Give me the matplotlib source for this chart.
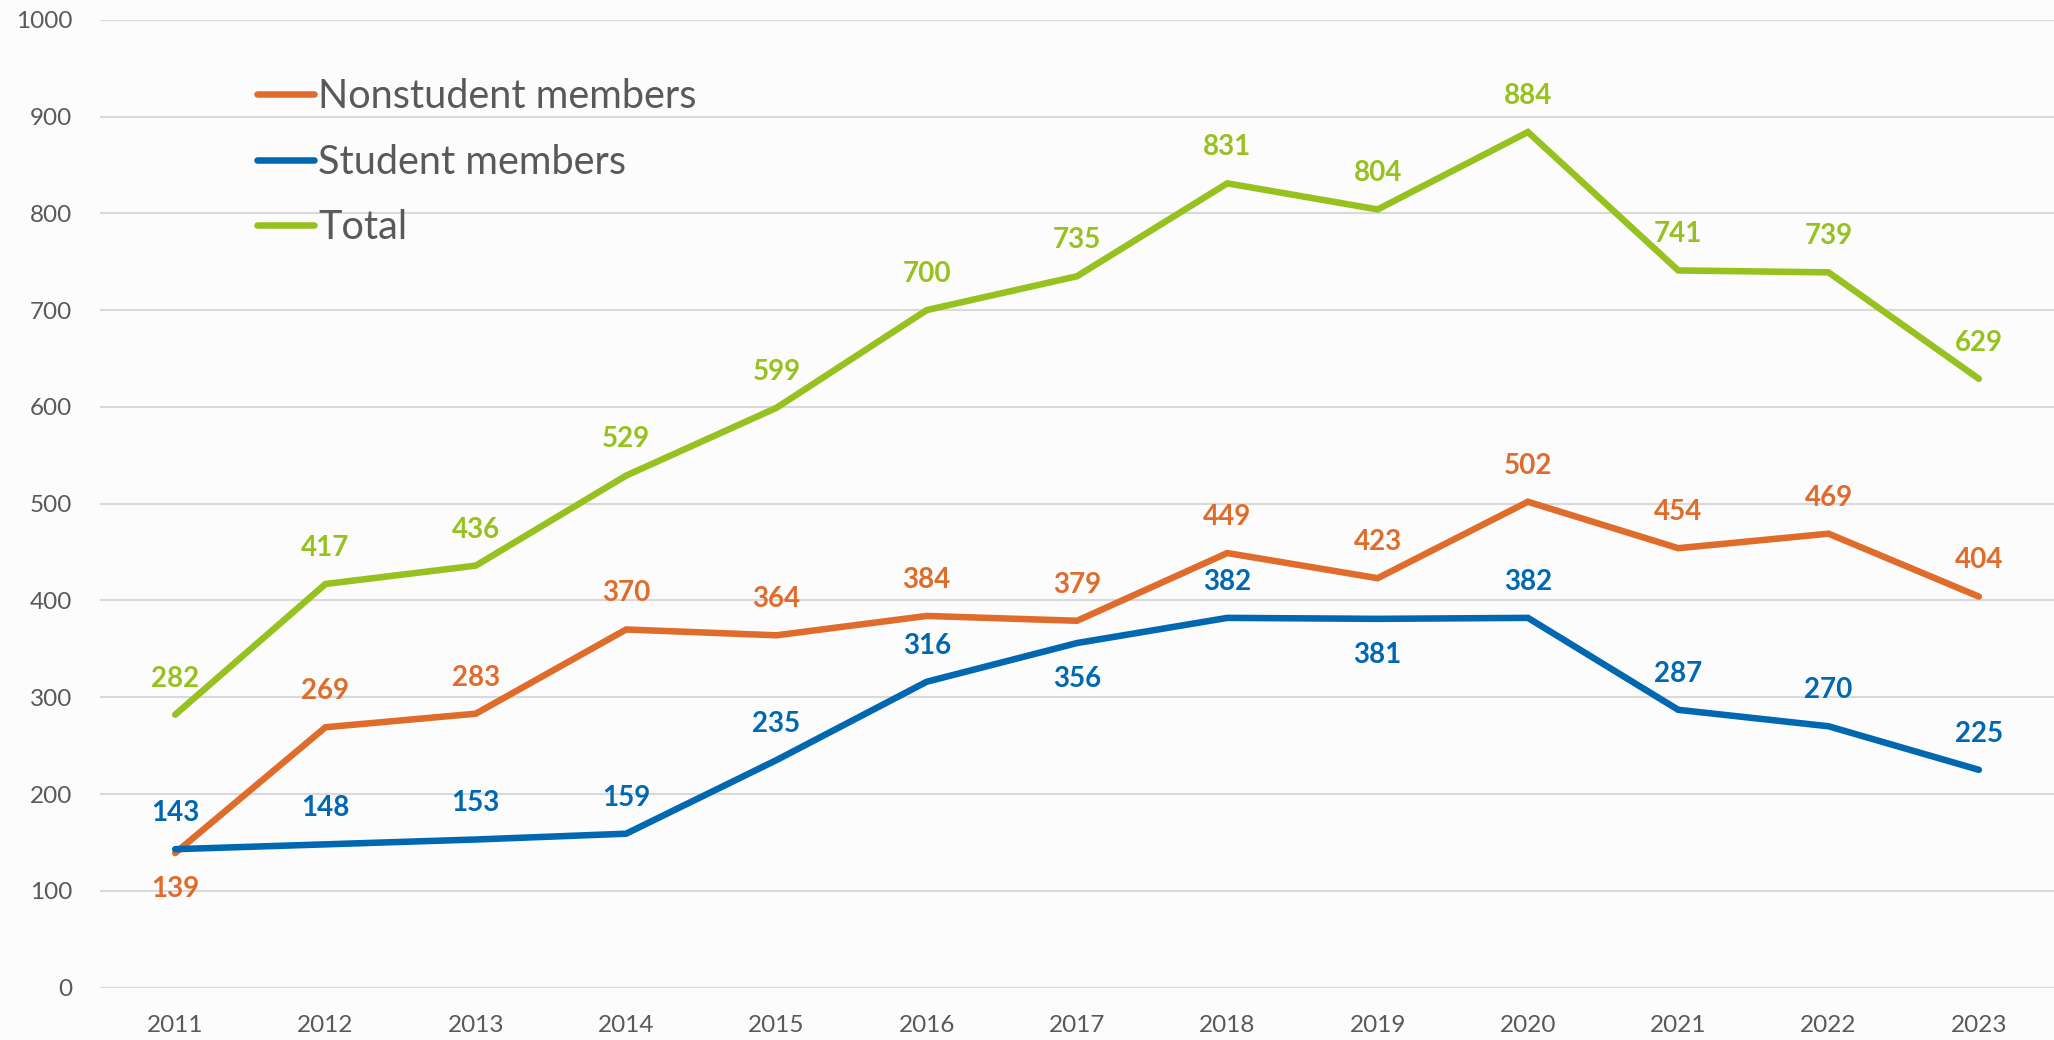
import numpy as np
import matplotlib.pyplot as plt

# Membership counts per year
years = ["2011", "2012", "2013", "2014", "2015", "2016", "2017",
         "2018", "2019", "2020", "2021", "2022", "2023"]
nonstudent = [139, 269, 283, 370, 364, 384, 379, 449, 423, 502, 454, 469, 404]
student = [143, 148, 153, 159, 235, 316, 356, 382, 381, 382, 287, 270, 225]
total = [282, 417, 436, 529, 599, 700, 735, 831, 804, 884, 741, 739, 629]

# +1 = label above the point, -1 = below
nonstudentPos = [-1, 1, 1, 1, 1, 1, 1, 1, 1, 1, 1, 1, 1]
studentPos = [1, 1, 1, 1, 1, 1, -1, 1, -1, 1, 1, 1, 1]
totalPos = [1] * 13

colOrange = "#E06C2C"
colBlue = "#0068B0"
colGreen = "#96C11F"
textGray = "#595959"

plt.rcParams["font.family"] = ["Lato", "DejaVu Sans"]

fig = plt.figure(figsize=(20.54, 10.40), dpi=100)
fig.patch.set_facecolor("#FCFCFC")
ax = fig.add_axes([0.0487, 0.0504, 0.9513, 0.9306])
ax.set_facecolor("#FCFCFC")

x = np.arange(len(years))
series = [("Nonstudent members", nonstudent, nonstudentPos, colOrange),
          ("Student members", student, studentPos, colBlue),
          ("Total", total, totalPos, colGreen)]

for name, vals, pos, col in series:
    ax.plot(x, vals, color=col, linewidth=4.7, solid_capstyle="round",
            solid_joinstyle="miter", label=name, zorder=3)
    for xi, v, p in zip(x, vals, pos):
        ax.annotate(str(v), (xi, v), xytext=(0, 26 * p), textcoords="offset points",
                    ha="center", va="center", fontsize=20, fontweight="bold",
                    color=col, zorder=4)

# Axes and grid
ax.set_xlim(-0.5, len(years) - 0.5)
ax.set_ylim(0, 1000)
ax.set_xticks(x)
ax.set_xticklabels(years)
ax.set_yticks(np.arange(0, 1001, 100))
ax.tick_params(axis="both", length=0, labelsize=17.5, labelcolor=textGray)
ax.tick_params(axis="x", pad=20)
ax.tick_params(axis="y", pad=20)
ax.grid(True, axis="y", color="#D9D9D9", linewidth=1.5, zorder=0)
ax.set_axisbelow(True)
for s in ax.spines.values():
    s.set_visible(False)

leg = ax.legend(loc="upper left", bbox_to_anchor=(0.125, 0.925),
                bbox_transform=fig.transFigure, frameon=False, fontsize=28.5,
                handlelength=1.45, handletextpad=0.1, labelspacing=0.72,
                borderpad=0, borderaxespad=0)
for t in leg.get_texts():
    t.set_color(textGray)

plt.savefig("out.png", dpi=100, facecolor=fig.get_facecolor())
